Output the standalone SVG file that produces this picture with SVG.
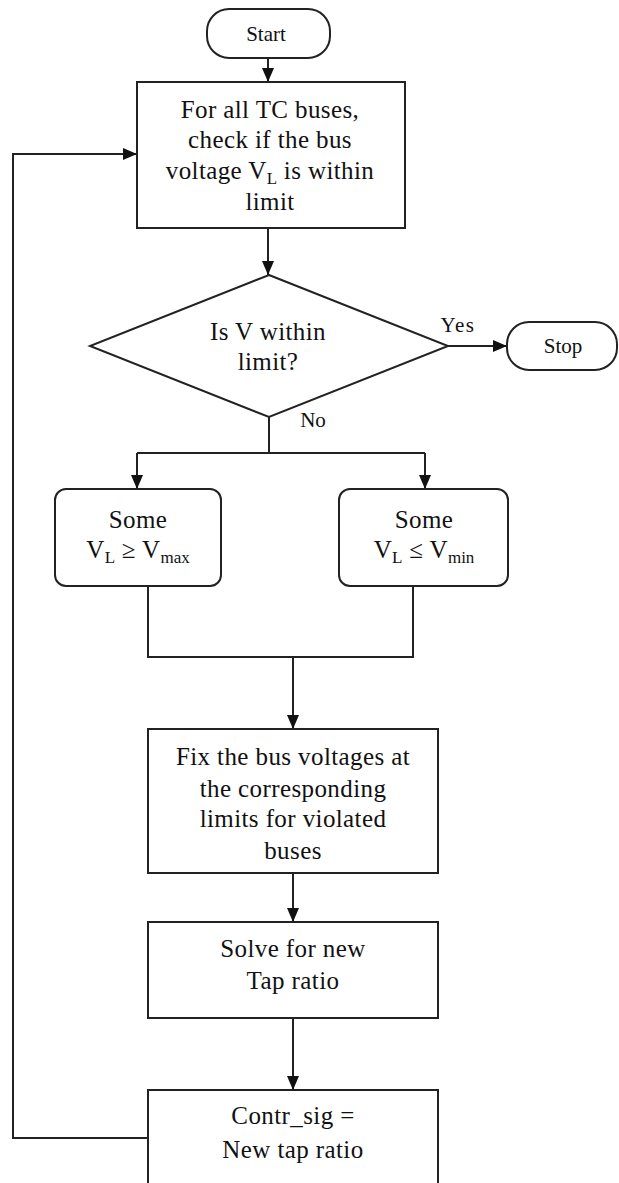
<svg xmlns="http://www.w3.org/2000/svg" width="619" height="1183" viewBox="0 0 619 1183">
<style>
.shape{fill:#ffffff;stroke:#222222;stroke-width:2}
.line{fill:none;stroke:#222222;stroke-width:2}
text{font-family:"Liberation Serif","Times New Roman",serif;fill:#111111;text-anchor:middle}
.t{font-size:25px;letter-spacing:0.4px}
.s{font-size:21px}
.sub{font-size:17px;letter-spacing:0}
</style>
<defs>
<marker id="arr" viewBox="0 0 14 12" refX="14" refY="6" markerWidth="14" markerHeight="12" markerUnits="userSpaceOnUse" orient="auto">
<path d="M0,0 L14,6 L0,12 Z" fill="#111111"/>
</marker>
</defs>
<rect width="619" height="1183" fill="#ffffff"/>
<g id="connectors">
<line class="line" x1="268" y1="58" x2="268" y2="82" marker-end="url(#arr)"/>
<line class="line" x1="268" y1="228" x2="268" y2="275" marker-end="url(#arr)"/>
<line class="line" x1="448" y1="346" x2="507" y2="346" marker-end="url(#arr)"/>
<polyline class="line" points="269,417 269,453"/>
<polyline class="line" points="137,453 425,453"/>
<line class="line" x1="137" y1="453" x2="137" y2="489" marker-end="url(#arr)"/>
<line class="line" x1="425" y1="453" x2="425" y2="489" marker-end="url(#arr)"/>
<polyline class="line" points="148,586 148,657 413,657 413,586"/>
<line class="line" x1="293" y1="657" x2="293" y2="729" marker-end="url(#arr)"/>
<line class="line" x1="293" y1="873" x2="293" y2="922" marker-end="url(#arr)"/>
<line class="line" x1="293" y1="1018" x2="293" y2="1090" marker-end="url(#arr)"/>
<polyline class="line" points="148,1138 13,1138 13,154 137,154" marker-end="url(#arr)"/>
<text class="s" x="458" y="332" letter-spacing="1.5">Yes</text>
<text class="s" x="313" y="427">No</text>
</g>
<g id="start">
<rect class="shape" x="207" y="9" width="123" height="49" rx="22" ry="22"/>
<text class="s" x="266" y="41">Start</text>
</g>
<g id="check">
<rect class="shape" x="137" y="82" width="268" height="146"/>
<text class="t" x="270" y="118">For all TC buses,</text>
<text class="t" x="270" y="148">check if the bus</text>
<text class="t" x="270" y="179">voltage V<tspan class="sub" dy="5">L</tspan><tspan dy="-5"> is within</tspan></text>
<text class="t" x="270" y="210">limit</text>
</g>
<g id="decision">
<polygon class="shape" points="269,275 448,346 269,417 90,346"/>
<text class="t" x="268" y="340">Is V within</text>
<text class="t" x="268" y="370">limit?</text>
</g>
<g id="stop">
<rect class="shape" x="507" y="322" width="110" height="48" rx="22" ry="22"/>
<text class="s" x="563" y="353">Stop</text>
</g>
<g id="vmax">
<rect class="shape" x="55" y="489" width="166" height="97" rx="11" ry="11"/>
<text class="t" x="138" y="528">Some</text>
<text class="t" x="138" y="558">V<tspan class="sub" dy="5">L</tspan><tspan dy="-5"> ≥ V</tspan><tspan class="sub" dy="5">max</tspan></text>
</g>
<g id="vmin">
<rect class="shape" x="339" y="489" width="169" height="97" rx="11" ry="11"/>
<text class="t" x="424" y="528">Some</text>
<text class="t" x="424" y="558">V<tspan class="sub" dy="5">L</tspan><tspan dy="-5"> ≤ V</tspan><tspan class="sub" dy="5">min</tspan></text>
</g>
<g id="fix">
<rect class="shape" x="148" y="729" width="290" height="144"/>
<text class="t" x="293" y="765">Fix the bus voltages at</text>
<text class="t" x="293" y="797">the corresponding</text>
<text class="t" x="293" y="827">limits for violated</text>
<text class="t" x="293" y="859">buses</text>
</g>
<g id="solve">
<rect class="shape" x="148" y="922" width="290" height="96"/>
<text class="t" x="293" y="957">Solve for new</text>
<text class="t" x="293" y="989">Tap ratio</text>
</g>
<g id="contr">
<rect class="shape" x="148" y="1090" width="290" height="110"/>
<text class="t" x="293" y="1124">Contr_sig =</text>
<text class="t" x="293" y="1158">New tap ratio</text>
</g>
</svg>
